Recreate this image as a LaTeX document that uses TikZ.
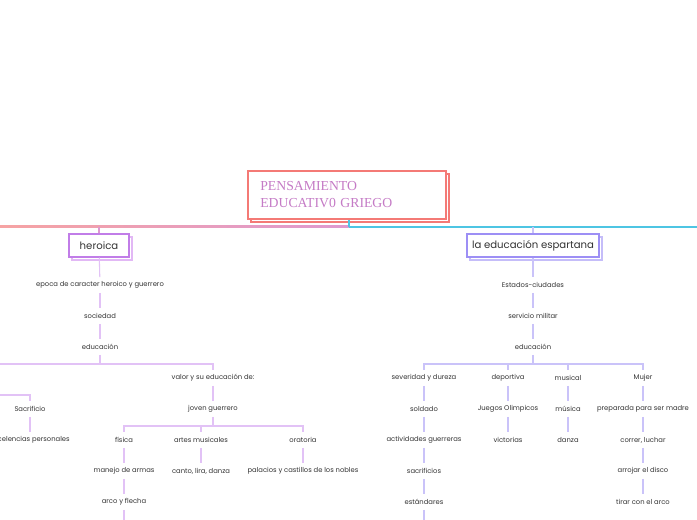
\documentclass[tikz,border=0pt]{standalone}
\usepackage{fontspec}
\setmainfont{Poppins}
\newfontfamily\titlefont{Liberation Serif}
\usetikzlibrary{shadows}
\definecolor{txt}{HTML}{333333}
\definecolor{titlered}{HTML}{F47A76}
\definecolor{titletxt}{HTML}{C57BC6}
\definecolor{mainL}{HTML}{F6A3A3}
\definecolor{mainM}{HTML}{DE99D0}
\definecolor{mainR}{HTML}{4EC5E3}
\definecolor{heroB}{HTML}{C17DE8}
\definecolor{heroS}{HTML}{E2B8F5}
\definecolor{lineL}{HTML}{E2C2F6}
\definecolor{espB}{HTML}{9D8FF5}
\definecolor{espS}{HTML}{C5BDF9}
\definecolor{lineR}{HTML}{CAC3F9}
\tikzset{
  smalltxt/.style={font=\fontsize{5.1}{6}\selectfont, text=txt, inner xsep=1pt, inner ysep=0pt, minimum height=11.25pt, yshift=-0.75pt},
  topicbox/.style={draw=#1, line width=0.9pt, fill=white, font=\fontsize{7.6}{9}\selectfont, text=txt, minimum height=17.25pt, inner xsep=0pt},
  lnL/.style={draw=lineL, line width=0.8pt},
  lnR/.style={draw=lineR, line width=0.8pt}
}
\begin{document}
\begin{tikzpicture}[x=0.75pt,y=-0.75pt]
\fill[white] (0,0) rectangle (697,520);
\useasboundingbox (0,0) rectangle (697,520);
\clip (0,0) rectangle (697,520);
% coordinates
\coordinate (mainY) at (0,227);
\coordinate (b1) at (0,364);
\coordinate (b2) at (0,395);
\coordinate (b3) at (0,426);
% main lines
\shade[left color=mainL, right color=mainM] (0,226) rectangle (349,228);
\fill[mainR] (349,226) rectangle (697,228);
% title
\node[draw=titlered, line width=1.4pt, fill=white, minimum width=148.5pt, minimum height=36pt,
      copy shadow={draw=titlered, fill=white, line width=1.4pt, shadow xshift=2.25pt, shadow yshift=-2.25pt},
      text=titletxt, font=\titlefont\fontsize{10.3}{12.75}\selectfont, align=left, text width=130pt] (title) at (347,195)
  {PENSAMIENTO\\EDUCATIV0 GRIEGO};
\draw[mainR, line width=1pt] (title.south -| 349,0) -- (349,227);
% topics
\node[topicbox=heroB, minimum width=45pt, copy shadow={draw=heroS, fill=white, line width=0.9pt, shadow xshift=2.25pt, shadow yshift=-2.25pt}] (hero) at (99,245.5) {heroica};
\node[topicbox=espB, minimum width=99pt, copy shadow={draw=espS, fill=white, line width=0.9pt, shadow xshift=2.25pt, shadow yshift=-2.25pt}] (esp) at (533,245.5) {la educación espartana};
% left nodes
\node[smalltxt] (e1) at (100,284) {epoca de caracter heroico y guerrero};
\node[smalltxt] (e2) at (100,315) {sociedad};
\node[smalltxt] (e3) at (100,346) {educación};
\coordinate (offA) at (-80,377);
\node[smalltxt] (valor) at (213,377) {valor y su educación de:};
\node[smalltxt] (joven) at (213,408) {joven guerrero};
\node[smalltxt] (sacr) at (30,408) {Sacrificio};
\node[smalltxt] (exc) at (30,439) {excelencias personales};
\node[smalltxt] (fis) at (124,439) {física};
\node[smalltxt] (art) at (201,439) {artes musicales};
\node[smalltxt] (ora) at (303,439) {oratoria};
\node[smalltxt] (man) at (124,470) {manejo de armas};
\node[smalltxt] (can) at (201,470) {canto, lira, danza};
\node[smalltxt] (pal) at (303,470) {palacios y castillos de los nobles};
\node[smalltxt] (arc) at (124,501) {arco y flecha};
\coordinate (offB) at (124,540);
% right nodes
\node[smalltxt] (r1) at (533,284) {Estados-ciudades};
\node[smalltxt] (r2) at (533,315) {servicio militar};
\node[smalltxt] (r3) at (533,346) {educación};
\node[smalltxt] (sev) at (424,377) {severidad y dureza};
\node[smalltxt] (dep) at (508,377) {deportiva};
\node[smalltxt] (mus) at (568,377) {musical};
\node[smalltxt] (muj) at (643,377) {Mujer};
\node[smalltxt] (sol) at (424,408) {soldado};
\node[smalltxt] (act) at (424,439) {actividades guerreras};
\node[smalltxt] (sac) at (424,470) {sacrificios};
\node[smalltxt] (est) at (424,501) {estándares};
\coordinate (offC) at (424,540);
\node[smalltxt] (jue) at (508,408) {Juegos Olimpicos};
\node[smalltxt] (vic) at (508,439) {victorias};
\node[smalltxt] (musica) at (568,408) {música};
\node[smalltxt] (danza) at (568,439) {danza};
\node[smalltxt] (prep) at (643,408) {preparada para ser madre};
\node[smalltxt] (corr) at (643,439) {correr, luchar};
\node[smalltxt] (arr) at (643,470) {arrojar el disco};
\node[smalltxt] (tir) at (643,501) {tirar con el arco};
% left connectors
\draw[draw=mainM, line width=0.9pt] (hero.north) -- (hero.north |- mainY);
\draw[lnL] (hero) -- (e1);
\draw[lnL] (e1) -- (e2);
\draw[lnL] (e2) -- (e3);
\draw[lnL] (e3) -- (e3 |- b1) -| (valor);
\draw[lnL] (e3 |- b1) -| (offA);
\draw[lnL] (offA |- b2) -| (sacr);
\draw[lnL] (sacr) -- (exc);
\draw[lnL] (valor) -- (joven);
\draw[lnL] (joven) -- (joven |- b3) -| (fis);
\draw[lnL] (joven |- b3) -| (art);
\draw[lnL] (joven |- b3) -| (ora);
\draw[lnL] (fis) -- (man);
\draw[lnL] (man) -- (arc);
\draw[lnL] (arc) -- (offB);
\draw[lnL] (art) -- (can);
\draw[lnL] (ora) -- (pal);
% right connectors
\draw[draw=lineR, line width=0.9pt] (esp.north) -- (esp.north |- mainY);
\draw[lnR] (esp) -- (r1);
\draw[lnR] (r1) -- (r2);
\draw[lnR] (r2) -- (r3);
\draw[lnR] (r3) -- (r3 |- b1) -| (sev);
\draw[lnR] (r3 |- b1) -| (dep);
\draw[lnR] (r3 |- b1) -| (mus);
\draw[lnR] (r3 |- b1) -| (muj);
\draw[lnR] (sev) -- (sol);
\draw[lnR] (sol) -- (act);
\draw[lnR] (act) -- (sac);
\draw[lnR] (sac) -- (est);
\draw[lnR] (est) -- (offC);
\draw[lnR] (dep) -- (jue);
\draw[lnR] (jue) -- (vic);
\draw[lnR] (mus) -- (musica);
\draw[lnR] (musica) -- (danza);
\draw[lnR] (muj) -- (prep);
\draw[lnR] (prep) -- (corr);
\draw[lnR] (corr) -- (arr);
\draw[lnR] (arr) -- (tir);
\end{tikzpicture}
\end{document}
